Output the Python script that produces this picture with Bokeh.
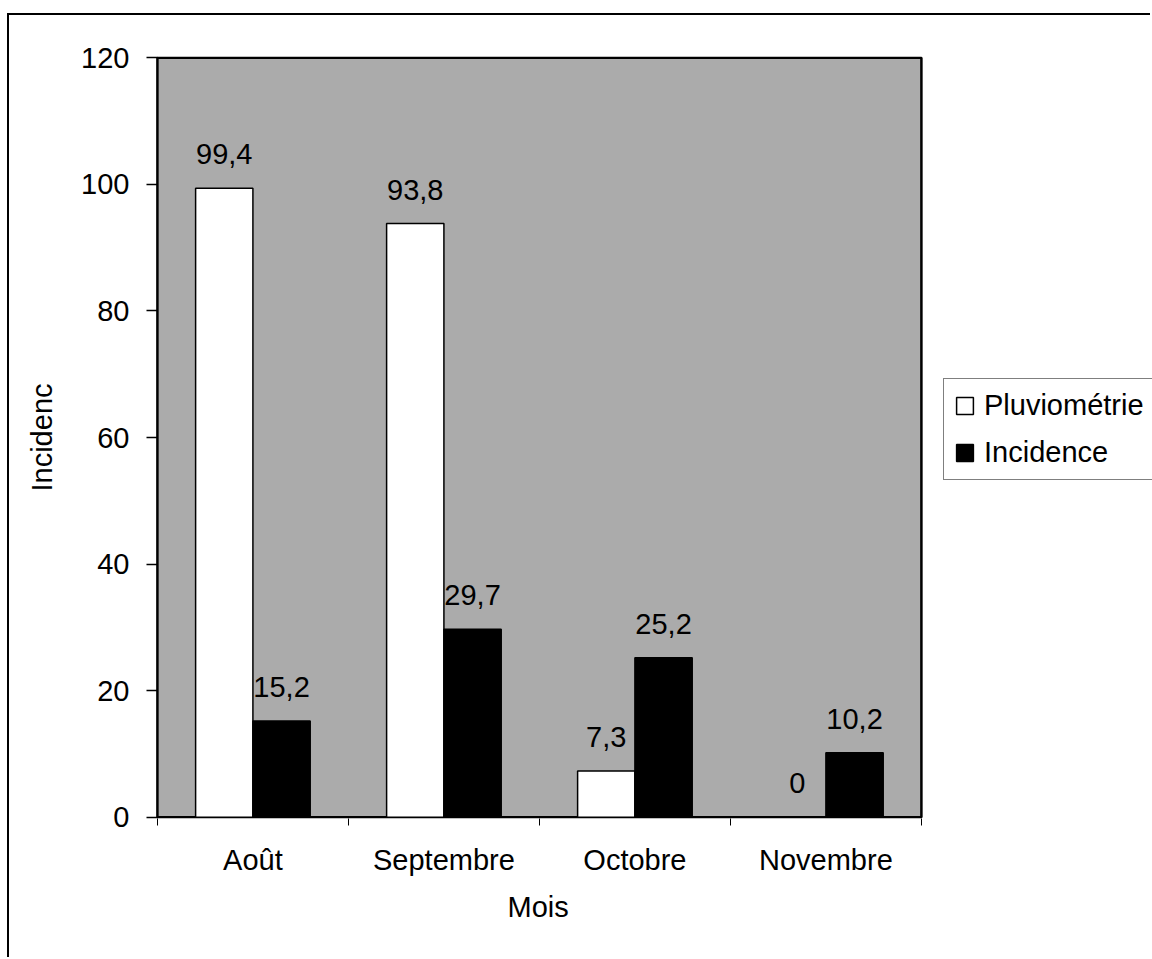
from bokeh.plotting import figure
from bokeh.models import (ColumnDataSource, Range1d, FixedTicker, LabelSet,
                          Legend, LegendItem, Title)
from bokeh.core.properties import value
from bokeh.transform import dodge
from bokeh.embed import file_html
from bokeh.resources import INLINE

# Monthly rainfall and incidence values
months = ["Août", "Septembre", "Octobre", "Novembre"]
pluviometrie = [99.4, 93.8, 7.3, 0]
incidence = [15.2, 29.7, 25.2, 10.2]
y_ticks = [0, 20, 40, 60, 80, 100, 120]


def fr(v):
    """French decimal formatting (comma separator)."""
    return f"{v:g}".replace(".", ",")


centers = [i + 0.5 for i in range(len(months))]
bounds = list(range(len(months) + 1))

src = ColumnDataSource(dict(
    x=centers,
    month=months,
    pluvio=pluviometrie,
    inc=incidence,
    pluvio_lbl=[fr(v) for v in pluviometrie],
    inc_lbl=[fr(v) for v in incidence],
))

FONT = "Liberation Sans"
FS = "29px"
BAR_W = 0.3

# The frame spans the plot area plus the legend zone on its right;
# the grey plot area itself is a quad over [0, n_months] x [0, y_max].
CANVAS_W, CANVAS_H = 1143, 944
BORDER_L, BORDER_T, BORDER_B = 146, 41, 141
PX_PER_MONTH = 191
PAD_X, PAD_Y = 0.01, 0.2
frame_w = CANVAS_W - BORDER_L
x_end = frame_w / PX_PER_MONTH - PAD_X

p = figure(width=CANVAS_W, height=CANVAS_H,
           x_range=Range1d(-PAD_X, x_end),
           y_range=Range1d(-PAD_Y, y_ticks[-1] + PAD_Y),
           output_backend="svg", toolbar_location=None,
           min_border_left=BORDER_L, min_border_right=0,
           min_border_top=BORDER_T, min_border_bottom=BORDER_B)
# outer chart border drawn with CSS on the figure element
p.margin = (13, 0, 0, 7)
p.styles = {"border-left": "2px solid black", "border-top": "2px solid black"}

p.background_fill_color = "white"
p.border_fill_color = "white"
p.outline_line_color = None
p.grid.visible = False

p.quad(left=0, right=len(months), bottom=0, top=y_ticks[-1],
       fill_color="#ababab", line_color="black", line_width=2.5)

w = p.vbar(x=dodge("x", -BAR_W / 2, range=p.x_range), top="pluvio", width=BAR_W,
           source=src, fill_color="white", line_color="black", line_width=1.5)
b = p.vbar(x=dodge("x", BAR_W / 2, range=p.x_range), top="inc", width=BAR_W,
           source=src, fill_color="black", line_color="black", line_width=1.5)

for xoff, col, lbl in [(-BAR_W / 2, "pluvio", "pluvio_lbl"), (BAR_W / 2, "inc", "inc_lbl")]:
    p.add_layout(LabelSet(x=dodge("x", xoff, range=p.x_range), y=col, text=lbl,
                          source=src, text_align="center", text_baseline="middle",
                          y_offset=34, text_font=value(FONT),
                          text_font_size=value(FS), text_color="black"))

# x axis: labels centred on each month, small ticks on month boundaries
xa = p.xaxis[0]
xa.ticker = FixedTicker(ticks=centers, minor_ticks=bounds)
xa.major_label_overrides = {c: m for c, m in zip(centers, months)}
xa.major_tick_out = 0
xa.major_tick_in = 0
xa.minor_tick_out = 7
xa.minor_tick_in = 0
xa.minor_tick_line_color = "black"
xa.minor_tick_line_width = 1
xa.axis_line_color = None
xa.major_label_standoff = 18
xa.major_label_text_font = FONT
xa.major_label_text_font_size = FS
xa.major_label_text_color = "black"

# x-axis title, centred under the grey plot area rather than the whole frame
p.add_layout(Title(text="Mois", align="left", offset=352, standoff=20,
                   text_font=FONT, text_font_size=FS, text_font_style="normal",
                   text_color="black"), "below")

ya = p.yaxis[0]
ya.ticker = FixedTicker(ticks=y_ticks, minor_ticks=[])
ya.major_tick_out = 9
ya.major_tick_in = 2
ya.major_tick_line_color = "black"
ya.major_tick_line_width = 1.5
ya.minor_tick_out = 0
ya.minor_tick_in = 0
ya.axis_line_color = None
ya.major_label_standoff = 17
ya.major_label_text_font = FONT
ya.major_label_text_font_size = FS
ya.major_label_text_color = "black"
ya.axis_label = "Incidenc"
ya.axis_label_standoff = 20
ya.axis_label_text_font = FONT
ya.axis_label_text_font_size = FS
ya.axis_label_text_font_style = "normal"
ya.axis_label_text_color = "black"

legend = Legend(items=[LegendItem(label="Pluviométrie", renderers=[w]),
                       LegendItem(label="Incidence", renderers=[b])],
                location=(788, 338),
                border_line_color="black", border_line_width=1.5,
                background_fill_color="white", background_fill_alpha=1,
                label_text_font=FONT, label_text_font_size=FS,
                label_text_color="black",
                glyph_width=21, glyph_height=21, label_standoff=9,
                padding=10, spacing=14, margin=0)
p.add_layout(legend)

open("out.html", "w").write(file_html(p, INLINE))
